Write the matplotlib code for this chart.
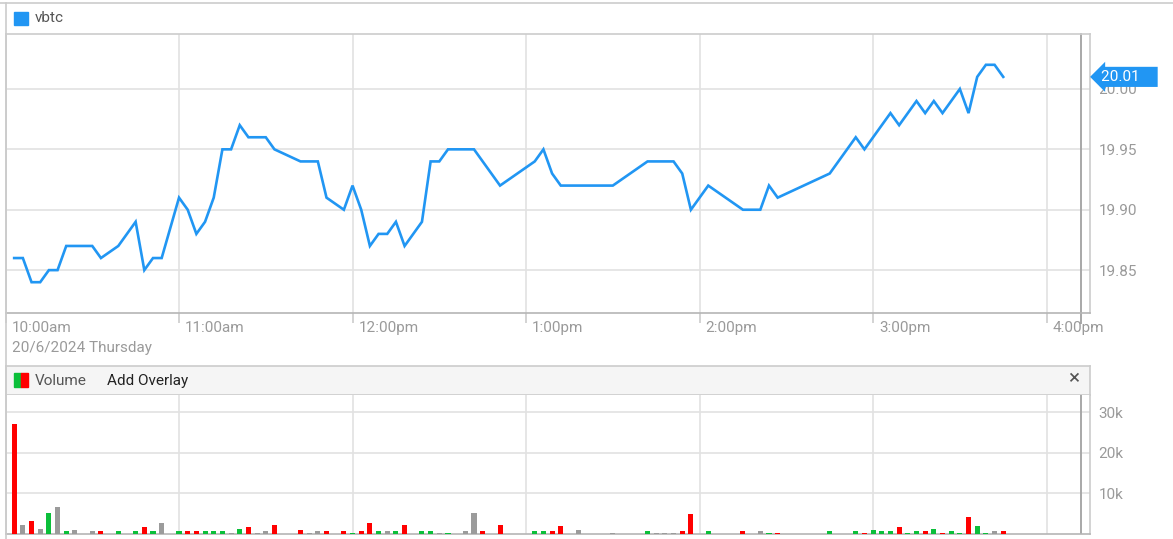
import numpy as np
import matplotlib
matplotlib.use('Agg')
import matplotlib.pyplot as plt

plt.rcParams['font.family'] = ['Roboto', 'DejaVu Sans']

# price points, minutes after 10:00am
price_min = [3, 6, 9, 12, 15, 18, 21, 30, 33, 39, 45, 48, 51, 54,
             60, 63, 66, 69, 72, 75, 78, 81, 84, 90, 93, 102, 108, 111, 117,
             120, 123, 126, 129, 132, 135, 138, 144, 147, 150, 153, 162, 171,
             183, 186, 189, 192, 210, 222, 231, 234, 237, 243, 255, 261, 264, 267,
             285, 294, 297, 306, 309, 315, 318, 321, 324, 327,
             330, 333, 336, 339, 342, 345]
price = [19.86, 19.86, 19.84, 19.84, 19.85, 19.85, 19.87, 19.87, 19.86, 19.87, 19.89, 19.85, 19.86, 19.86,
         19.91, 19.90, 19.88, 19.89, 19.91, 19.95, 19.95, 19.97, 19.96, 19.96, 19.95, 19.94, 19.94, 19.91, 19.90,
         19.92, 19.90, 19.87, 19.88, 19.88, 19.89, 19.87, 19.89, 19.94, 19.94, 19.95, 19.95, 19.92,
         19.94, 19.95, 19.93, 19.92, 19.92, 19.94, 19.94, 19.93, 19.90, 19.92, 19.90, 19.90, 19.92, 19.91,
         19.93, 19.96, 19.95, 19.98, 19.97, 19.99, 19.98, 19.99, 19.98, 19.99,
         20.00, 19.98, 20.01, 20.02, 20.02, 20.01]
last_price = 20.01

# volume bars (thousands), direction: d = down, u = up, f = flat
vol_min = [3, 6, 9, 12, 15, 18, 21, 24, 30, 33, 39, 45, 48, 51, 54,
           60, 63, 66, 69, 72, 75, 78, 81, 84, 87, 90, 93, 102, 105, 108, 111, 117,
           120, 123, 126, 129, 132, 135, 138, 144, 147, 150, 153, 159, 162, 165, 171,
           183, 186, 189, 192, 198, 210, 222, 225, 228, 231, 234, 237, 243, 255, 261, 264, 267,
           285, 294, 297, 300, 303, 306, 309, 312, 315, 318, 321, 324, 327,
           330, 333, 336, 339, 342, 345]
vol_k = [27.1, 2.1, 3.1, 1.1, 5.1, 6.6, 0.6, 0.8, 0.6, 0.6, 0.6, 0.6, 1.6, 0.6, 2.5,
         0.6, 0.6, 0.6, 0.6, 0.6, 0.6, 0.15, 1.1, 1.6, 0.15, 0.6, 2.1, 0.8, 0.15, 0.6, 0.6, 0.6,
         0.15, 0.6, 2.5, 0.6, 0.6, 0.6, 2.1, 0.6, 0.6, 0.15, 0.15, 0.6, 5.1, 0.6, 2.1,
         0.6, 0.6, 0.6, 1.8, 0.8, 0.15, 0.6, 0.15, 0.15, 0.15, 0.6, 4.75, 0.6, 0.6, 0.6, 0.15, 0.15,
         0.6, 0.6, 0.15, 0.8, 0.6, 0.6, 1.6, 0.15, 0.6, 0.6, 1.1, 0.15, 0.6,
         0.15, 4.1, 1.8, 0.15, 0.6, 0.6]
vol_dir = ['d', 'f', 'd', 'f', 'u', 'f', 'u', 'f', 'f', 'd', 'u', 'u', 'd', 'u', 'f',
           'u', 'd', 'd', 'u', 'u', 'u', 'f', 'u', 'd', 'f', 'f', 'd', 'd', 'f', 'f', 'd', 'd',
           'u', 'd', 'd', 'u', 'f', 'u', 'd', 'u', 'u', 'f', 'u', 'f', 'f', 'd', 'd',
           'u', 'u', 'd', 'd', 'f', 'f', 'u', 'f', 'f', 'f', 'd', 'd', 'u', 'd', 'f', 'u', 'd',
           'u', 'u', 'd', 'u', 'u', 'u', 'd', 'u', 'u', 'd', 'u', 'd', 'u',
           'u', 'd', 'u', 'u', 'f', 'd']

hour_ticks = [0, 60, 120, 180, 240, 300, 360]
hour_labels = ['10:00am', '11:00am', '12:00pm', '1:00pm', '2:00pm', '3:00pm', '4:00pm']
price_ticks = [19.85, 19.90, 19.95, 20.00]
vol_ticks = [10, 20, 30]
vol_tick_labels = ['10k', '20k', '30k']

BLUE = '#2196F3'
GRID = '#e2e2e2'
BORDER = '#cccccc'
LABEL = '#9a9a9a'
FS = 11
dir_colors = {'u': '#0bbf3a', 'd': '#ff0000', 'f': '#9b9b9b'}

W, H = 1173, 539


def box(x0, y0, x1, y1):
    return [x0 / W, 1 - y1 / H, (x1 - x0) / W, (y1 - y0) / H]


fig = plt.figure(figsize=(W / 100, H / 100), dpi=100)

# top strip line and left frame
fig.add_artist(plt.Line2D([0, 1], [1 - 3 / H, 1 - 3 / H], color=BORDER, lw=1.2))
fig.add_artist(plt.Line2D([5.5 / W, 5.5 / W], [1 - 3 / H, 0], color=BORDER, lw=1.2))

# legend row of the price panel
fig.patches.append(plt.Rectangle((14 / W, 1 - 25 / H), 14 / W, 13 / H, color=BLUE,
                                 transform=fig.transFigure, figure=fig))
fig.text(35 / W, 1 - 18.5 / H, 'vbtc', fontsize=FS, color='#555555', va='center', ha='left')

# ---------------- price panel ----------------
ax = fig.add_axes(box(5.5, 34, 1090, 313))
ax.plot(price_min, price, color=BLUE, lw=1.9, solid_joinstyle='miter')
ax.set_xlim(0, 375)
ax.set_ylim(19.8145, 20.0455)
ax.set_xticks(hour_ticks)
ax.set_xticklabels([])
ax.tick_params(axis='x', length=7, color=BORDER, width=1.2)
ax.yaxis.tick_right()
ax.set_yticks(price_ticks)
ax.set_yticklabels([f'{v:.2f}' for v in price_ticks])
ax.tick_params(axis='y', length=0, pad=6, labelsize=FS, labelcolor=LABEL)
ax.grid(True, color=GRID, lw=1.2)
ax.set_axisbelow(True)
for s in ax.spines.values():
    s.set_color(BORDER)
    s.set_linewidth(1.2)
ax.spines['bottom'].set_color('#b5b5b5')

for t, lab in zip(hour_ticks, hour_labels):
    ax.annotate(lab, xy=(t, 0), xycoords=('data', 'axes fraction'), xytext=(6, -8),
                textcoords='offset pixels', ha='left', va='top', fontsize=FS,
                color=LABEL, annotation_clip=False)
ax.annotate('20/6/2024 Thursday', xy=(0, 0), xycoords='axes fraction', xytext=(6, -28),
            textcoords='offset pixels', ha='left', va='top', fontsize=FS, color=LABEL,
            annotation_clip=False)

# current-time divider
ax.axvline(372, ymin=-0.035, ymax=1, color='#a8a8a8', lw=1.4, clip_on=False)

# last price tag
ax.annotate(f'{last_price:.2f}' + '    ', xy=(1, last_price), xycoords=('axes fraction', 'data'),
            xytext=(11, 0), textcoords='offset pixels', ha='left', va='center',
            fontsize=FS, color='white', annotation_clip=False,
            bbox=dict(boxstyle='larrow,pad=0.2', fc=BLUE, ec='none'))

# ---------------- volume header ----------------
hdr = fig.add_axes(box(5.5, 366, 1090, 395))
hdr.set_facecolor('#f5f5f5')
hdr.set_xticks([])
hdr.set_yticks([])
for s in hdr.spines.values():
    s.set_color(BORDER)
    s.set_linewidth(1.2)
fig.patches.append(plt.Rectangle((14 / W, 1 - 387 / H), 7 / W, 14 / H, color='#0bbf3a',
                                 transform=fig.transFigure, figure=fig))
fig.patches.append(plt.Rectangle((21 / W, 1 - 387 / H), 7 / W, 14 / H, color='#ff0000',
                                 transform=fig.transFigure, figure=fig))
fig.text(35 / W, 1 - 381 / H, 'Volume', fontsize=FS, color='#555555', va='center', ha='left')
fig.text(107 / W, 1 - 381 / H, 'Add Overlay', fontsize=FS, color='#222222', va='center', ha='left')
fig.text(1074 / W, 1 - 379 / H, '\u00d7', fontsize=15, color='#555555', va='center', ha='center')

# ---------------- volume panel ----------------
axv = fig.add_axes(box(5.5, 395, 1090, 533.5))
axv.bar(vol_min, vol_k, width=1.75, color=[dir_colors[d] for d in vol_dir], zorder=3)
axv.set_xlim(0, 375)
axv.set_ylim(0, 34.2)
axv.set_xticks(hour_ticks)
axv.set_xticklabels([])
axv.tick_params(axis='x', length=0)
axv.yaxis.tick_right()
axv.set_yticks(vol_ticks)
axv.set_yticklabels(vol_tick_labels)
axv.tick_params(axis='y', length=0, pad=6, labelsize=FS, labelcolor=LABEL)
axv.grid(True, color=GRID, lw=1.2)
axv.set_axisbelow(True)
for s in axv.spines.values():
    s.set_color(BORDER)
    s.set_linewidth(1.2)
axv.spines['top'].set_visible(False)
axv.spines['bottom'].set_color('#b5b5b5')
axv.axvline(372, color='#a8a8a8', lw=1.4)

fig.savefig('out.png', dpi=100)
